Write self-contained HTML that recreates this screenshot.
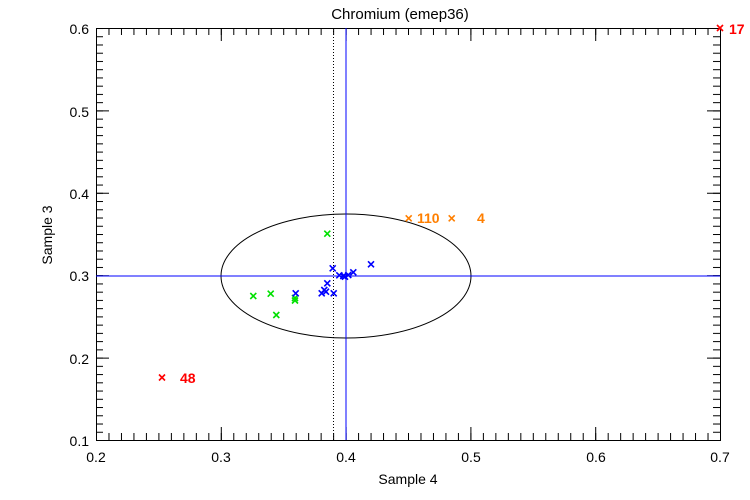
<!DOCTYPE html>
<html><head><style>body{margin:0;background:#fff}svg{display:block}</style></head><body>
<svg width="750" height="500" xmlns="http://www.w3.org/2000/svg" font-family="Liberation Sans, sans-serif">
<defs>
<pattern id="px" patternUnits="userSpaceOnUse" x="96" y="0" width="12.48" height="500"><rect x="0" y="0" width="1" height="500" fill="#000"/></pattern>
<pattern id="py" patternUnits="userSpaceOnUse" x="0" y="28" width="750" height="8.24"><rect x="0" y="0" width="750" height="1" fill="#000"/></pattern>
</defs>
<rect width="750" height="500" fill="#fff"/>
<rect x="96" y="433" width="626" height="7" fill="url(#px)"/>
<rect x="96" y="28" width="626" height="7" fill="url(#px)"/>
<rect x="96" y="28" width="7" height="413" fill="url(#py)"/>
<rect x="713" y="28" width="7" height="413" fill="url(#py)"/>
<path d="M221.3 440V427M346.1 440V427M470.9 440V427M595.7 440V427M221.3 28V41M346.1 28V41M470.9 28V41M595.7 28V41M96 110.9H109M96 193.3H109M96 275.7H109M96 358.1H109M720 110.9H707M720 193.3H707M720 275.7H707M720 358.1H707" stroke="#000" fill="none"/>
<rect x="96.5" y="28.5" width="624" height="412" fill="none" stroke="#000"/>
<text x="400" y="19" font-size="15" text-anchor="middle">Chromium (emep36)</text>
<text x="408" y="484" font-size="14" text-anchor="middle">Sample 4</text>
<text transform="translate(52,235) rotate(-90)" font-size="14" text-anchor="middle">Sample 3</text>
<g font-size="14" text-anchor="middle">
<text x="96" y="462">0.2</text><text x="221" y="462">0.3</text><text x="346" y="462">0.4</text><text x="471" y="462">0.5</text><text x="596" y="462">0.6</text><text x="720" y="462">0.7</text>
</g>
<g font-size="14" text-anchor="end">
<text x="89" y="34">0.6</text><text x="89" y="117">0.5</text><text x="89" y="199">0.4</text><text x="89" y="281">0.3</text><text x="89" y="364">0.2</text><text x="89" y="446">0.1</text>
</g>
<line x1="333.5" y1="28" x2="333.5" y2="440" stroke="#000" stroke-dasharray="1,2"/>
<ellipse cx="346" cy="276" rx="125" ry="62" fill="none" stroke="#000"/>
<line x1="346" y1="28" x2="346" y2="440" stroke="#0000ff"/>
<line x1="96" y1="276" x2="720" y2="276" stroke="#0000ff"/>
<g stroke-width="1.6" fill="none">
<g stroke="#00e000">
<path d="M324.3 230.7l6 6m0-6l-6 6"/><path d="M250.3 293l6 6m0-6l-6 6"/><path d="M267.7 290.7l6 6m0-6l-6 6"/><path d="M292 295l6 6m0-6l-6 6"/><path d="M292 297.5l6 6m0-6l-6 6"/><path d="M273.3 312l6 6m0-6l-6 6"/>
</g>
<g stroke="#0000ff">
<path d="M329.7 265.3l6 6m0-6l-6 6"/><path d="M368 261.3l6 6m0-6l-6 6"/><path d="M350.3 269.3l6 6m0-6l-6 6"/><path d="M342 273.7l6 6m0-6l-6 6"/><path d="M340.3 273l6 6m0-6l-6 6"/><path d="M336.3 272.3l6 6m0-6l-6 6"/><path d="M345.3 272l6 6m0-6l-6 6"/><path d="M324.3 280.3l6 6m0-6l-6 6"/><path d="M321.3 287l6 6m0-6l-6 6"/><path d="M318.7 290.3l6 6m0-6l-6 6"/><path d="M323 288.7l6 6m0-6l-6 6"/><path d="M330.7 290.3l6 6m0-6l-6 6"/><path d="M292.7 290.3l6 6m0-6l-6 6"/>
</g>
<g stroke="#ff7f00"><path d="M405.7 215.3l6 6m0-6l-6 6"/><path d="M448.7 215.3l6 6m0-6l-6 6"/></g>
<g stroke="#ff0000"><path d="M159 374.5l6 6m0-6l-6 6"/><path d="M717 25l6 6m0-6l-6 6"/></g>
</g>
<g font-size="14" font-weight="bold">
<text x="180" y="383" fill="#f00">48</text>
<text x="729" y="34" fill="#f00">17</text>
<text x="417" y="223" fill="#ff7f00">110</text>
<text x="477" y="223" fill="#ff7f00">4</text>
</g>
</svg></body></html>
